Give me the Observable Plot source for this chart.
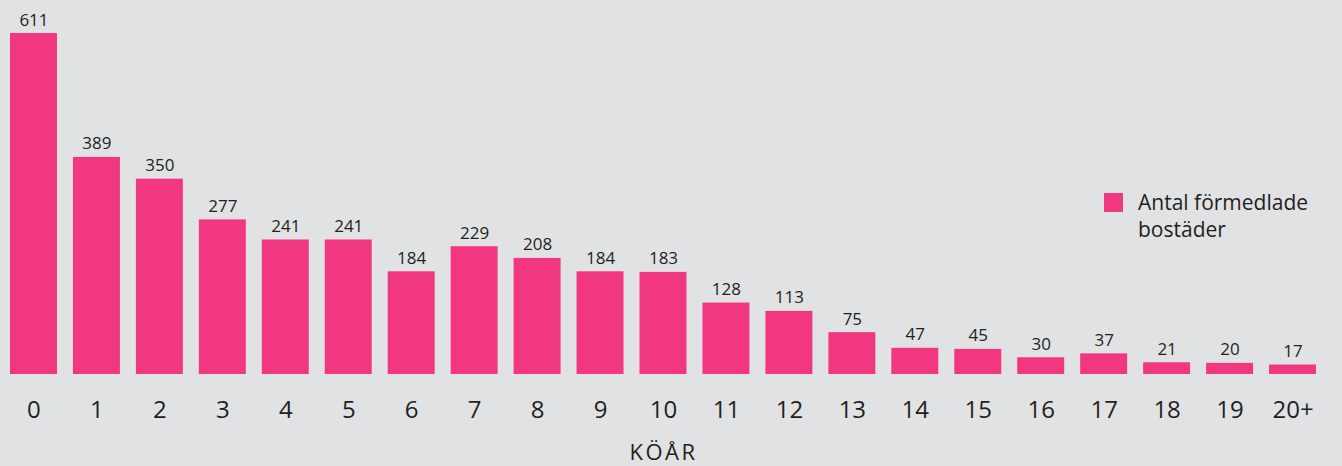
<!DOCTYPE html>
<html>
<head>
<meta charset="utf-8">
<script src="https://cdn.jsdelivr.net/npm/d3@7"></script>
<script src="https://cdn.jsdelivr.net/npm/@observablehq/plot@0.6"></script>
<style>
  html, body { margin: 0; padding: 0; background: #e1e2e4; }
  #wrap { position: relative; width: 1342px; height: 466px; font-family: "Open Sans", sans-serif; color: #231f20; }
  #legend { position: absolute; left: 1104px; top: 189px; display: flex; align-items: flex-start; }
  #legend .sw { width: 19px; height: 19px; background: #f0377f; margin-top: 4px; margin-right: 15px; }
  #legend .tx { font-size: 21px; line-height: 27px; }
</style>
</head>
<body>
<div id="wrap"></div>
<script>
const categories = ["0","1","2","3","4","5","6","7","8","9","10","11","12","13","14","15","16","17","18","19","20+"];
const values = [611,389,350,277,241,241,184,229,208,184,183,128,113,75,47,45,30,37,21,20,17];
const seriesName = "Antal förmedlade bostäder";
const axisLabel = "KÖÅR";

const data = categories.map((c, i) => ({ key: c, value: values[i] }));
const pink = "#f0377f";
const ink = "#231f20";

const chart = Plot.plot({
  width: 1342,
  height: 466,
  marginTop: 33,
  marginBottom: 92,
  marginLeft: 3.7,
  marginRight: 19.7,
  style: { background: "#e1e2e4", fontFamily: "Open Sans, sans-serif", color: ink, overflow: "visible" },
  x: { domain: categories, paddingInner: 0.254, paddingOuter: 0.1, round: false, label: null },
  y: { domain: [0, 611], axis: null },
  marks: [
    Plot.barY(data, { x: "key", y: "value", fill: pink }),
    Plot.text(data, { x: "key", y: "value", text: d => String(d.value), lineAnchor: "bottom", dy: -8, fontSize: 17, fill: ink }),
    Plot.axisX({ tickSize: 0, tickPadding: 26, fontSize: 24, fill: ink, label: null }),
    Plot.text([axisLabel], { frameAnchor: "bottom", lineAnchor: "bottom", dy: 85, fontSize: 22, fill: ink, className: "axlabel" })
  ]
});

document.getElementById("wrap").appendChild(chart);
d3.select(chart).selectAll(".axlabel text").style("letter-spacing", "2.5px");

const legend = document.createElement("div");
legend.id = "legend";
legend.innerHTML = `<div class="sw"></div><div class="tx">Antal förmedlade<br>bostäder</div>`;
document.getElementById("wrap").appendChild(legend);
</script>
</body>
</html>
